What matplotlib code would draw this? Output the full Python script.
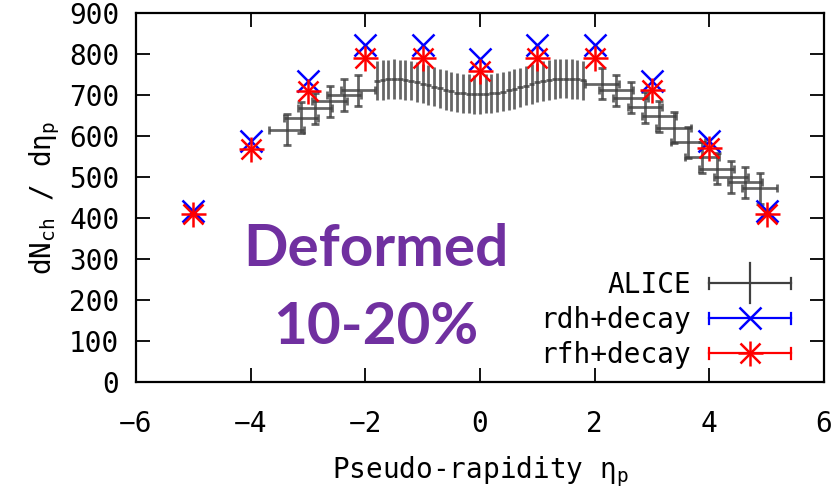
import matplotlib
matplotlib.use("Agg")
import matplotlib.pyplot as plt
from matplotlib.legend_handler import HandlerBase
from matplotlib.lines import Line2D

# ---------------- data ----------------
alice_fwd_left_eta = [-3.375, -3.125, -2.875, -2.625, -2.375, -2.125]
alice_fwd_left_val = [615, 645, 668, 685, 700, 712]
alice_central_eta = [-1.8, -1.7, -1.6, -1.5, -1.4, -1.3, -1.2, -1.1, -1.0, -0.9,
                     -0.8, -0.7, -0.6, -0.5, -0.4, -0.3, -0.2, -0.1, 0.0, 0.1,
                     0.2, 0.3, 0.4, 0.5, 0.6, 0.7, 0.8, 0.9, 1.0, 1.1,
                     1.2, 1.3, 1.4, 1.5, 1.6, 1.7, 1.8]
alice_central_val = [735, 737, 738, 739, 738, 737, 735, 732, 728, 724,
                     720, 716, 712, 709, 706, 704, 703, 702, 702, 703,
                     704, 706, 708, 711, 715, 719, 723, 727, 731, 734,
                     737, 739, 740, 740, 739, 738, 736]
alice_fwd_right_eta = [2.125, 2.375, 2.625, 2.875, 3.125, 3.375, 3.625, 3.875,
                       4.125, 4.375, 4.625, 4.875]
alice_fwd_right_val = [728, 712, 693, 670, 648, 620, 585, 548, 520, 500, 487, 472]
alice_fwd_xerr = 0.3
alice_central_xerr = 0.05
alice_fwd_yerr = 38
alice_central_yerr = 48

model_eta = [-5, -4, -3, -2, -1, 0, 1, 2, 3, 4, 5]
rdh_val = [417, 588, 734, 821, 821, 787, 821, 821, 734, 588, 417]
rfh_val = [409, 568, 710, 791, 791, 759, 791, 791, 711, 571, 409]

x_ticks = [-6, -4, -2, 0, 2, 4, 6]
y_ticks = [0, 100, 200, 300, 400, 500, 600, 700, 800, 900]

# ---------------- style ----------------
plt.rcParams['font.family'] = ['DejaVu Sans Mono']
plt.rcParams['mathtext.fontset'] = 'custom'
plt.rcParams['mathtext.rm'] = 'DejaVu Sans Mono'
plt.rcParams['mathtext.it'] = 'DejaVu Sans Mono'
FS = 20

GRAY = '#404040'
BLUE = '#0000ff'
RED = '#ff0000'

fig = plt.figure(figsize=(8.4, 4.92), dpi=100)
ax = fig.add_axes([136/840, 1-382/492, 688/840, 369/492])

ekw = dict(fmt='none', ecolor=GRAY, alpha=0.8, elinewidth=2.0, capthick=2.0)
ax.errorbar(alice_fwd_left_eta, alice_fwd_left_val, xerr=alice_fwd_xerr, yerr=alice_fwd_yerr,
            capsize=3, **ekw)
ax.errorbar(alice_central_eta, alice_central_val, xerr=alice_central_xerr, yerr=alice_central_yerr,
            capsize=0, **ekw)
ax.errorbar(alice_fwd_right_eta, alice_fwd_right_val, xerr=alice_fwd_xerr, yerr=alice_fwd_yerr,
            capsize=3, **ekw)

ax.plot(model_eta, rdh_val, linestyle='none', marker='x', markersize=16, mew=1.8, color=BLUE)
ax.plot(model_eta, rfh_val, linestyle='none', marker='x', markersize=14, mew=1.8, color=RED)
ax.plot(model_eta, rfh_val, linestyle='none', marker='+', markersize=18, mew=1.8, color=RED)


class ErrHandler(HandlerBase):
    def __init__(self, color, vert, markers, **kw):
        super().__init__(**kw)
        self.color = color
        self.vert = vert
        self.markers = markers

    def create_artists(self, legend, orig_handle, xdescent, ydescent, width, height, fontsize, trans):
        cy = height / 2 - ydescent
        x0 = -xdescent
        x1 = width - xdescent
        cx = (x0 + x1) / 2
        cap = 0.2 * fontsize
        lw = 1.6
        arts = [Line2D([x0, x1], [cy, cy], color=self.color, lw=lw),
                Line2D([x0, x0], [cy - cap, cy + cap], color=self.color, lw=lw),
                Line2D([x1, x1], [cy - cap, cy + cap], color=self.color, lw=lw)]
        if self.vert:
            v = 0.72 * fontsize
            arts.append(Line2D([cx, cx], [cy - v, cy + v], color=self.color, lw=lw))
        for m, ms in self.markers:
            arts.append(Line2D([cx], [cy], marker=m, markersize=ms, mew=1.8,
                               color=self.color, linestyle='none'))
        for a in arts:
            a.set_transform(trans)
        return arts


p1 = Line2D([], [], color=GRAY, label='ALICE')
p2 = Line2D([], [], color=BLUE, label='rdh+decay')
p3 = Line2D([], [], color=RED, label='rfh+decay')
leg = ax.legend(handles=[p1, p2, p3], loc='lower right', bbox_to_anchor=(0.952, 0.035),
                markerfirst=False, frameon=False, fontsize=FS, handlelength=2.95,
                handletextpad=0.65, labelspacing=0.25, borderpad=0, borderaxespad=0,
                handler_map={p1: ErrHandler(GRAY, True, []),
                             p2: ErrHandler(BLUE, False, [('x', 16)]),
                             p3: ErrHandler(RED, False, [('x', 14), ('+', 18)])})

ax.set_xlim(-6, 6)
ax.set_ylim(0, 900)
ax.set_xticks(x_ticks)
ax.set_yticks(y_ticks)
ax.set_xticklabels([('\u2212' + str(-v)) if v < 0 else str(v) for v in x_ticks])
ax.tick_params(direction='in', length=10, width=1.3, top=True, right=True, labelsize=FS, colors='black')
ax.tick_params(axis='x', pad=20)
ax.tick_params(axis='y', pad=12)
for s in ax.spines.values():
    s.set_linewidth(1.6)

ax.set_xlabel('Pseudo-rapidity η$_{\\mathrm{p}}$', fontsize=FS, labelpad=12)
ax.set_ylabel('dN$_{\\mathrm{ch}}$ / dη$_{\\mathrm{p}}$', fontsize=FS, labelpad=5)

ax.text(0.349, 0.314, 'Deformed', transform=ax.transAxes, ha='center', va='baseline',
        color='#7030a0', fontsize=42, fontweight='bold', family='Lato')
ax.text(0.349, 0.103, '10-20%', transform=ax.transAxes, ha='center', va='baseline',
        color='#7030a0', fontsize=42, fontweight='bold', family='Lato')

fig.savefig('out.png', dpi=100)
